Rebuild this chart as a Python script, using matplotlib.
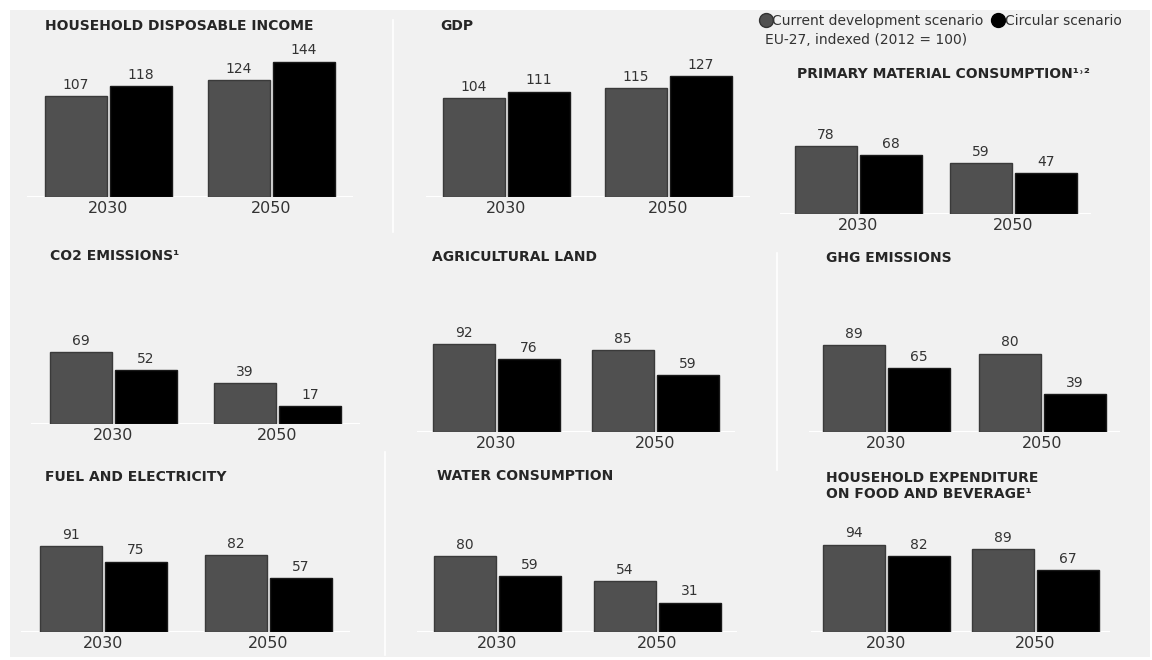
import matplotlib
matplotlib.use('Agg')
import matplotlib.pyplot as plt
from matplotlib.lines import Line2D
from matplotlib.patches import Rectangle

W, H = 1152, 660

years = ['2030', '2050']
titles = ['HOUSEHOLD DISPOSABLE INCOME', 'GDP', 'PRIMARY MATERIAL CONSUMPTION\u00b9\u02d2\u00b2',
          'CO2 EMISSIONS\u00b9', 'AGRICULTURAL LAND', 'GHG EMISSIONS',
          'FUEL AND ELECTRICITY', 'WATER CONSUMPTION',
          'HOUSEHOLD EXPENDITURE\nON FOOD AND BEVERAGE\u00b9']
current_dev = [[107, 124], [104, 115], [78, 59], [69, 39], [92, 85],
               [89, 80], [91, 82], [80, 54], [94, 89]]
circular = [[118, 144], [111, 127], [68, 47], [52, 17], [76, 59],
            [65, 39], [75, 57], [59, 31], [82, 67]]

GRAY = '#505050'
BLACK = '#000000'
TXT = '#333333'
BG = '#f1f1f1'

# layout per panel (pixels): centre of first group, group spacing, baseline y, px per unit, title x/y
layout = [
    (108.5, 163, 197, 0.94, 45, 26),
    (506.5, 162, 197, 0.95, 440, 26),
    (858, 155.5, 214, 0.87, 797, 74),
    (113, 164.5, 424, 1.04, 50, 256),
    (496, 159, 432, 0.96, 432, 257),
    (886.5, 155.5, 432, 0.98, 826, 258),
    (103.5, 164.5, 632, 0.94, 45, 477),
    (497, 160, 632, 0.95, 437, 476),
    (886, 149.5, 632, 0.93, 826, 471),
]

fig = plt.figure(figsize=(W / 100, H / 100), dpi=100)
fig.patch.set_facecolor('white')
fig.add_artist(Rectangle((10 / W, 1 - 657 / H), 1140 / W, 647 / H,
                         transform=fig.transFigure, facecolor=BG, edgecolor='none', zorder=-10))

# faint white separators
for x, y0, y1 in [(393, 20, 232), (777, 253, 470), (385, 452, 655)]:
    fig.add_artist(Line2D([x / W, x / W], [1 - y0 / H, 1 - y1 / H], transform=fig.transFigure,
                          color='white', lw=1.2, zorder=-5))

for i in range(9):
    c0, u, base, s, tx, ty = layout[i]
    ymax = 160
    left = c0 - 0.5 * u
    ax = fig.add_axes([left / W, 1 - base / H, 2 * u / W, ymax * s / H])
    ax.set_facecolor('none')
    ax.set_xlim(-0.5, 1.5)
    ax.set_ylim(0, ymax)
    bw = 62 / u
    off = 32.5 / u
    x = [0, 1]
    b1 = ax.bar([v - off for v in x], current_dev[i], width=bw, color=GRAY,
                edgecolor='#3a3a3a', linewidth=1, zorder=3)
    b2 = ax.bar([v + off for v in x], circular[i], width=bw, color=BLACK,
                edgecolor='#1a1a1a', linewidth=1, zorder=3)
    for bars in (b1, b2):
        for r in bars:
            ax.annotate(f'{int(r.get_height())}', (r.get_x() + r.get_width() / 2, r.get_height()),
                        xytext=(0, 3), textcoords='offset points', ha='center', va='bottom',
                        fontsize=10, color=TXT)
    ax.axhline(0, color='white', lw=1.5, zorder=2)
    for sp in ax.spines.values():
        sp.set_visible(False)
    ax.set_yticks([])
    ax.set_xticks(x)
    ax.set_xticklabels(years, fontsize=11.5, color=TXT)
    ax.tick_params(axis='x', length=0, pad=3)

    va = 'top' if '\n' in titles[i] else 'center'
    fig.text(tx / W, 1 - ty / H, titles[i], fontsize=10, fontweight='heavy', color='#262626',
             ha='left', va=va, linespacing=1.15)

handles = [Line2D([], [], marker='o', ls='none', markersize=10, color=GRAY, markeredgecolor='#333333'),
           Line2D([], [], marker='o', ls='none', markersize=10, color=BLACK)]
fig.legend(handles, ['Current development scenario', 'Circular scenario'], ncol=2,
           loc='center left', bbox_to_anchor=(760 / W, 1 - 21 / H), frameon=False,
           fontsize=10, labelcolor=TXT, handlelength=0.8, handletextpad=0.1,
           columnspacing=0.6, borderpad=0, borderaxespad=0)
fig.text(765 / W, 1 - 40 / H, 'EU-27, indexed (2012 = 100)', fontsize=10, color=TXT,
         ha='left', va='center')

fig.savefig('out.png', dpi=100, facecolor=fig.get_facecolor())
